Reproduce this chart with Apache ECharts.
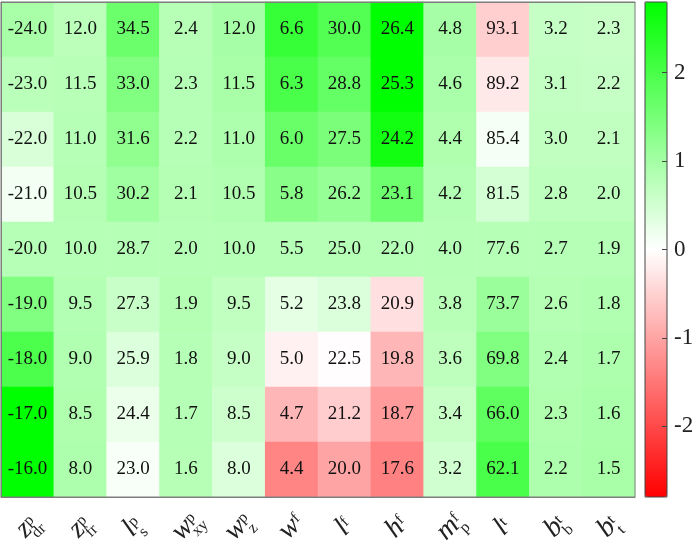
<!DOCTYPE html>
<html>
<head>
<meta charset="utf-8">
<title>heatmap</title>
<script src="https://cdn.jsdelivr.net/npm/echarts@6/dist/echarts.min.js"></script>
<style>
  html, body { margin: 0; padding: 0; background: #fff; }
  #chart { width: 697px; height: 553px; }
</style>
</head>
<body>
<div id="chart"></div>
<script>
// 列标签：主符号、上标、下标
var bases = ['z', 'z', 'l', 'w', 'w', 'w', 'l', 'h', 'm', 'l', 'b', 'b'];
var sups = ['p', 'p', 'p', 'p', 'p', 'f', 'f', 'f', 'f', 't', 't', 't'];
var subs = ['dr', 'fr', 's', 'xy', 'z', '', '', '', 'p', '', 'b', 't'];

// 单元格里显示的数值（每列从上到下）
var zdr = ['-24.0', '-23.0', '-22.0', '-21.0', '-20.0', '-19.0', '-18.0', '-17.0', '-16.0'];
var zfr = ['12.0', '11.5', '11.0', '10.5', '10.0', '9.5', '9.0', '8.5', '8.0'];
var ls = ['34.5', '33.0', '31.6', '30.2', '28.7', '27.3', '25.9', '24.4', '23.0'];
var wxy = ['2.4', '2.3', '2.2', '2.1', '2.0', '1.9', '1.8', '1.7', '1.6'];
var wz = ['12.0', '11.5', '11.0', '10.5', '10.0', '9.5', '9.0', '8.5', '8.0'];
var wf = ['6.6', '6.3', '6.0', '5.8', '5.5', '5.2', '5.0', '4.7', '4.4'];
var lf = ['30.0', '28.8', '27.5', '26.2', '25.0', '23.8', '22.5', '21.2', '20.0'];
var hf = ['26.4', '25.3', '24.2', '23.1', '22.0', '20.9', '19.8', '18.7', '17.6'];
var mpf = ['4.8', '4.6', '4.4', '4.2', '4.0', '3.8', '3.6', '3.4', '3.2'];
var lt = ['93.1', '89.2', '85.4', '81.5', '77.6', '73.7', '69.8', '66.0', '62.1'];
var bbt = ['3.2', '3.1', '3.0', '2.8', '2.7', '2.6', '2.4', '2.3', '2.2'];
var btt = ['2.3', '2.2', '2.1', '2.0', '1.9', '1.8', '1.7', '1.6', '1.5'];
var textCols = [zdr, zfr, ls, wxy, wz, wf, lf, hf, mpf, lt, bbt, btt];

// 颜色值（从图上估计，-2.8 ~ 2.8）
var cZdr = [0.95, 0.76, 0.43, 0.14, 0.8, 1.39, 1.97, 2.8, 2.8];
var cZfr = [0.75, 0.78, 0.8, 0.81, 0.8, 0.84, 0.86, 0.88, 0.9];
var cLs = [1.61, 1.39, 1.22, 1.04, 0.8, 0.6, 0.38, 0.22, 0.08];
var cWxy = [0.79, 0.8, 0.8, 0.81, 0.8, 0.81, 0.8, 0.8, 0.79];
var cWz = [0.98, 0.95, 0.9, 0.86, 0.8, 0.69, 0.64, 0.55, 0.38];
var cWf = [2.2, 2.0, 1.65, 1.3, 0.8, 0.3, -0.15, -0.8, -1.35];
var cLf = [1.9, 1.7, 1.45, 1.15, 0.8, 0.4, -0.02, -0.55, -1.0];
var cHf = [2.8, 2.8, 2.6, 1.6, 0.8, -0.35, -0.8, -1.1, -1.38];
var cMpf = [0.98, 0.93, 0.88, 0.84, 0.8, 0.78, 0.71, 0.62, 0.52];
var cLt = [-0.54, -0.25, 0.1, 0.47, 0.8, 1.11, 1.39, 1.75, 2.0];
var cBbt = [0.64, 0.66, 0.69, 0.73, 0.8, 0.82, 0.86, 0.88, 0.9];
var cBtt = [0.62, 0.64, 0.69, 0.73, 0.8, 0.86, 0.9, 0.93, 0.95];
var colorCols = [cZdr, cZfr, cLs, cWxy, cWz, cWf, cLf, cHf, cMpf, cLt, cBbt, cBtt];

var cbTicks = [-2, -1, 0, 1, 2];

var serif = 'Liberation Serif';
var gray = '#7f7f7f';

var xCats = bases.map(function (b, i) { return i; });
var yCats = zdr.map(function (v, j) { return j; });

var cells = [];
for (var i = 0; i < colorCols.length; i++) {
  for (var j = 0; j < colorCols[i].length; j++) {
    cells.push([i, j, colorCols[i][j]]);
  }
}

// 上下标：第一行 主符号+上标，第二行 透明占位+下标
var rich = {
  b: { fontFamily: serif, fontStyle: 'italic', fontSize: 28, color: '#222', lineHeight: 22 },
  sup: { fontFamily: serif, fontSize: 16, color: '#222', lineHeight: 10, verticalAlign: 'top' },
  bh: { fontFamily: serif, fontStyle: 'italic', fontSize: 28, color: 'transparent', lineHeight: 1 },
  sub: { fontFamily: serif, fontSize: 16, color: '#222', lineHeight: 1 }
};

var myChart = echarts.init(document.getElementById('chart'));
myChart.setOption({
  animation: false,
  grid: [
    { left: 1, top: 2, width: 634, height: 495, outerBoundsMode: 'none', show: true, z: 6, backgroundColor: 'transparent', borderColor: gray, borderWidth: 1 },
    { left: 645, top: 2, width: 22, height: 495, outerBoundsMode: 'none', show: true, z: 10, backgroundColor: 'transparent', borderColor: '#444', borderWidth: 1 }
  ],
  xAxis: [
    {
      type: 'category', gridIndex: 0, data: xCats, position: 'bottom', z: 5,
      axisLine: { lineStyle: { color: gray } },
      axisTick: { inside: true, alignWithLabel: true, length: 5, lineStyle: { color: gray } },
      axisLabel: {
        rotate: 45, margin: 30, interval: 0, align: 'center', verticalAlign: 'middle',
        formatter: function (v, idx) {
          return '{b|' + bases[idx] + '}{sup|' + sups[idx] + '}\n{bh|' + bases[idx] + '}{sub|' + (subs[idx] || ' ') + '}';
        },
        rich: rich
      }
    },
    {
      type: 'category', gridIndex: 0, data: xCats, position: 'top', z: 5,
      axisLine: { lineStyle: { color: gray } },
      axisTick: { inside: true, alignWithLabel: true, length: 5, lineStyle: { color: gray } },
      axisLabel: { show: false }
    },
    { type: 'value', gridIndex: 1, show: false, min: 0, max: 1 }
  ],
  yAxis: [
    {
      type: 'category', gridIndex: 0, data: yCats, inverse: true, z: 5,
      axisLine: { lineStyle: { color: gray } }, axisTick: { show: false }, axisLabel: { show: false }
    },
    {
      type: 'value', gridIndex: 1, position: 'right', min: -2.8, max: 2.8, z: 12,
      splitLine: { show: false },
      axisLine: { show: false, onZero: false },
      axisTick: { inside: true, length: 5, customValues: cbTicks, lineStyle: { color: '#444' } },
      axisLabel: { customValues: cbTicks, fontFamily: serif, fontSize: 23, color: '#222', margin: 7 }
    }
  ],
  visualMap: {
    type: 'continuous', min: -2.8, max: 2.8, dimension: 2, seriesIndex: 0,
    calculable: false, realtime: false, text: ['', ''], showLabel: false,
    left: 645, top: 2, itemWidth: 22, itemHeight: 495, padding: 0,
    inRange: { color: ['#ff0000', '#ffffff', '#00ff00'] }
  },
  series: [{
    type: 'heatmap', xAxisIndex: 0, yAxisIndex: 0, data: cells,
    emphasis: { disabled: true },
    label: {
      show: true, fontFamily: serif, fontSize: 19, color: '#111',
      formatter: function (p) { return textCols[p.data[0]][p.data[1]]; }
    }
  }]
});
</script>
</body>
</html>
